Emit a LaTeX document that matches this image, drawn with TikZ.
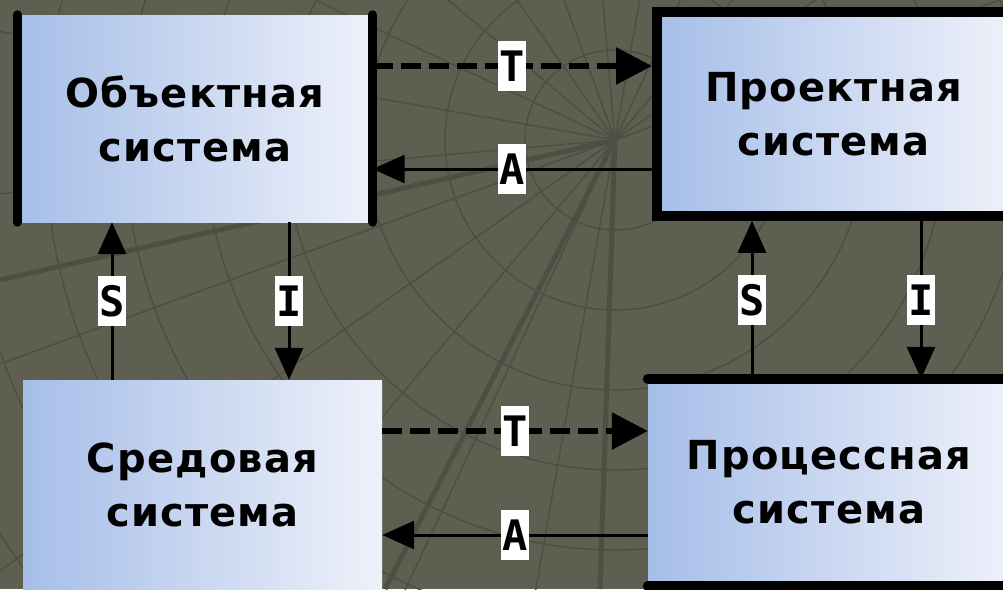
\documentclass[tikz,border=0pt]{standalone}
\usepackage{fontspec}
\usetikzlibrary{arrows.meta}
\newfontfamily\sysfont[LetterSpace=3]{DejaVu Sans}
\newfontfamily\tagfont{DejaVu Sans Mono}
\definecolor{bg}{RGB}{94,95,81}
\definecolor{grid}{RGB}{78,79,66}
\definecolor{boxleft}{RGB}{166,190,232}
\definecolor{boxright}{RGB}{238,241,250}
\tikzstyle{system} = [rectangle, left color=boxleft, right color=boxright, text centered, align=center, inner sep=0pt, font=\sysfont\bfseries\fontsize{40}{54}\selectfont]
\tikzstyle{tag} = [rectangle, fill=white, inner sep=0pt, minimum width=28pt, minimum height=50pt, font=\tagfont\bfseries\fontsize{42}{42}\selectfont]
\tikzstyle{arrow} = [line width=3pt, -{Triangle[length=32pt,width=28pt]}]
\tikzstyle{dasharrow} = [line width=6pt, dash pattern=on 20pt off 8pt, -{Triangle[length=36pt,width=36pt]}]
\tikzstyle{rim} = [line width=9pt, line cap=round]
\tikzstyle{mesh} = [grid, line width=1.5pt]

\begin{document}
\begin{tikzpicture}[x=1pt, y=-1pt]
  \useasboundingbox (0,0) rectangle (1003,589);
  \clip (0,0) rectangle (1003,589);
  \fill [bg] (0,0) rectangle (1003,589);
  \foreach \r in {90,170,250,330,410,490,570,650,730}
    \draw [mesh] (615,140) circle (\r);
  \foreach \a in {100,115,...,340}
    \draw [mesh] (615,140) -- ++(\a:900);
  \draw [grid, line width=5pt] (615,140) -- (0,280);
  \draw [grid, line width=5pt] (615,140) -- (385,589);
  \draw [grid, line width=5pt] (615,140) -- (600,589);

  \node (obj) [system, minimum width=355pt, minimum height=207pt] at (195,118.5) {Объектная\\система};
  \node (proj) [system, draw=black, line width=10pt, minimum width=353pt, minimum height=203.5pt] at (833.5,114) {Проектная\\система};
  \node (env) [system, minimum width=359pt, minimum height=210pt] at (202.5,485) {Средовая\\система};
  \node (proc) [system, minimum width=362pt, minimum height=207pt] at (829,482.5) {Процессная\\система};

  \draw [rim] (obj.north west) -- (obj.south west);
  \draw [rim] (obj.north east) -- (obj.south east);
  \draw [rim, line width=10pt] (proc.north west) -- (proc.north east);
  \draw [rim, line width=10pt] (proc.south west) -- (proc.south east);

  \draw [dasharrow] ([yshift=52.5pt]obj.east) -- node[tag] {T} ([yshift=52.5pt]obj.east -| proj.west);
  \draw [arrow] ([yshift=-55pt]proj.west) -- node[tag] {A} ([yshift=-55pt]proj.west -| obj.east);
  \draw [dasharrow] ([yshift=54pt]env.east) -- node[tag] {T} ([yshift=54pt]env.east -| proc.west);
  \draw [arrow] ([yshift=-52.5pt]proc.west) -- node[tag] {A} ([yshift=-52.5pt]proc.west -| env.east);
  \draw [arrow] ([xshift=-90.5pt]env.north) -- node[tag] {S} ([xshift=-90.5pt]env.north |- obj.south);
  \draw [arrow] ([xshift=94pt]obj.south) -- node[tag] {I} ([xshift=94pt]obj.south |- env.north);
  \draw [arrow] ([xshift=-77pt]proc.north) -- node[tag] {S} ([xshift=-77pt]proc.north |- proj.south);
  \draw [arrow] ([xshift=87.5pt]proj.south) -- node[tag] {I} ([xshift=87.5pt]proj.south |- proc.north);
\end{tikzpicture}
\end{document}
